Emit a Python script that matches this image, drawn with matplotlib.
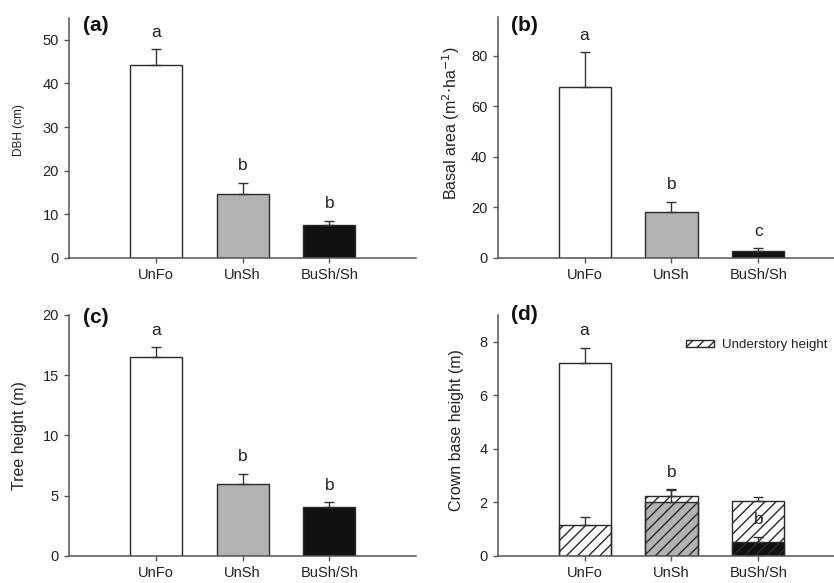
import matplotlib
matplotlib.use("Agg")
import matplotlib.pyplot as plt
from matplotlib.patches import Patch
import numpy as np

plt.rcParams['font.family'] = ['Liberation Sans', 'DejaVu Sans']
plt.rcParams['hatch.linewidth'] = 1.0
plt.rcParams['hatch.color'] = '#222222'

categories = ['UnFo', 'UnSh', 'BuSh/Sh']
bar_colors = ['white', '#b3b3b5', '#111111']

# (a) DBH
dbh = [44.2, 14.7, 7.6]
dbh_err = [3.6, 2.5, 0.9]
dbh_letters = ['a', 'b', 'b']

# (b) basal area
basal = [67.8, 18.2, 2.9]
basal_err = [13.7, 4.0, 0.9]
basal_letters = ['a', 'b', 'c']

# (c) tree height
tree_h = [16.5, 5.95, 4.05]
tree_h_err = [0.8, 0.85, 0.4]
tree_h_letters = ['a', 'b', 'b']

# (d) crown base height + understory height
crown = [7.19, 2.0, 0.5]
crown_err = [0.59, 0.47, 0.21]
under = [1.15, 2.24, 2.04]
under_err = [0.28, 0.25, 0.17]
crown_letters = ['a', 'b', 'b']

W, H = 834, 583
fig = plt.figure(figsize=(W / 100, H / 100), dpi=100)

def axes_px(x0, x1, ytop, ybot):
    return fig.add_axes([x0 / W, 1 - ybot / H, (x1 - x0) / W, (ybot - ytop) / H])

x = np.arange(1, 4)
ecol = '#333333'
hatch = '///'

def style(ax, xlim, ylim, yticks, ylabel, ysize, panel, py):
    ax.set_xlim(*xlim)
    ax.set_ylim(*ylim)
    ax.set_yticks(yticks)
    ax.set_xticks(x)
    ax.set_xticklabels(categories)
    for s in ['top', 'right']:
        ax.spines[s].set_visible(False)
    for s in ['left', 'bottom']:
        ax.spines[s].set_color('#555555')
        ax.spines[s].set_linewidth(1.1)
    ax.tick_params(direction='out', length=3.5, width=1, color='#555555',
                   labelsize=10.5, labelcolor='#222222', pad=4)
    ax.set_ylabel(ylabel, fontsize=ysize, color='#222222')
    ax.text(0.04, py, panel, transform=ax.transAxes, fontsize=15,
            fontweight='bold', va='center', ha='left', color='#111111')

def letters(ax, tops, labs, off=17):
    for xi, t, l in zip(x, tops, labs):
        ax.annotate(l, (xi, t), xytext=(0, off), textcoords='offset pixels',
                    ha='center', va='center', fontsize=12.5, color='#222222')

def simple_panel(ax, vals, err, labs):
    ax.bar(x, vals, width=0.6, color=bar_colors, edgecolor='#2a2a2a',
           linewidth=1, zorder=2)
    ax.errorbar(x, vals, yerr=[np.zeros(3), err], fmt='none', ecolor=ecol,
                elinewidth=1, capsize=3.5, capthick=1, zorder=3)
    letters(ax, np.array(vals) + np.array(err), labs)

# (a)
ax_a = axes_px(69.3, 416, 18, 258)
simple_panel(ax_a, dbh, dbh_err, dbh_letters)
style(ax_a, (0, 4), (0, 55), [0, 10, 20, 30, 40, 50], 'DBH (cm)', 8.5,
      '(a)', 0.969)
ax_a.yaxis.set_label_coords(-0.128, 0.533)

# (b)
ax_b = axes_px(497.7, 834, 17, 258)
simple_panel(ax_b, basal, basal_err, basal_letters)
style(ax_b, (0, 3.87), (0, 95.4), [0, 20, 40, 60, 80],
      'Basal area (m$^{2}$$\\cdot$ha$^{-1}$)', 11.5, '(b)', 0.963)
ax_b.yaxis.set_label_coords(-0.106, 0.56)

# (c)
ax_c = axes_px(69.3, 416, 315, 555.7)
simple_panel(ax_c, tree_h, tree_h_err, tree_h_letters)
style(ax_c, (0, 4), (0, 20), [0, 5, 10, 15, 20], 'Tree height (m)', 11.5,
      '(c)', 0.99)
ax_c.yaxis.set_label_coords(-0.122, 0.5)

# (d)
ax_d = axes_px(497.7, 834, 315, 555.7)
ax_d.bar(x, crown, width=0.6, color=bar_colors, edgecolor='#2a2a2a',
         linewidth=1, zorder=2)
ax_d.bar(x, under, width=0.6, fill=False, hatch=hatch, edgecolor='#2a2a2a',
         linewidth=1, zorder=2.5)
ax_d.errorbar(x, crown, yerr=[np.zeros(3), crown_err], fmt='none', ecolor=ecol,
              elinewidth=1, capsize=3.5, capthick=1, zorder=3)
ax_d.errorbar(x, under, yerr=[np.zeros(3), under_err], fmt='none', ecolor=ecol,
              elinewidth=1, capsize=3.5, capthick=1, zorder=3)
letters(ax_d, np.array(crown) + np.array(crown_err), crown_letters)
style(ax_d, (0, 3.87), (0, 9), [0, 2, 4, 6, 8], 'Crown base height (m)', 11.5,
      '(d)', 1.003)
ax_d.yaxis.set_label_coords(-0.10, 0.523)
leg = ax_d.legend(handles=[Patch(facecolor='none', edgecolor='#2a2a2a',
                                 hatch=hatch, linewidth=1)],
                  labels=['Understory height'], loc='center left',
                  bbox_to_anchor=(0.56, 0.875), frameon=False, fontsize=9.6,
                  handlelength=2.1, handleheight=0.5, handletextpad=0.6,
                  borderpad=0, borderaxespad=0)
for t in leg.get_texts():
    t.set_color('#222222')

fig.savefig('out.png', dpi=100)
